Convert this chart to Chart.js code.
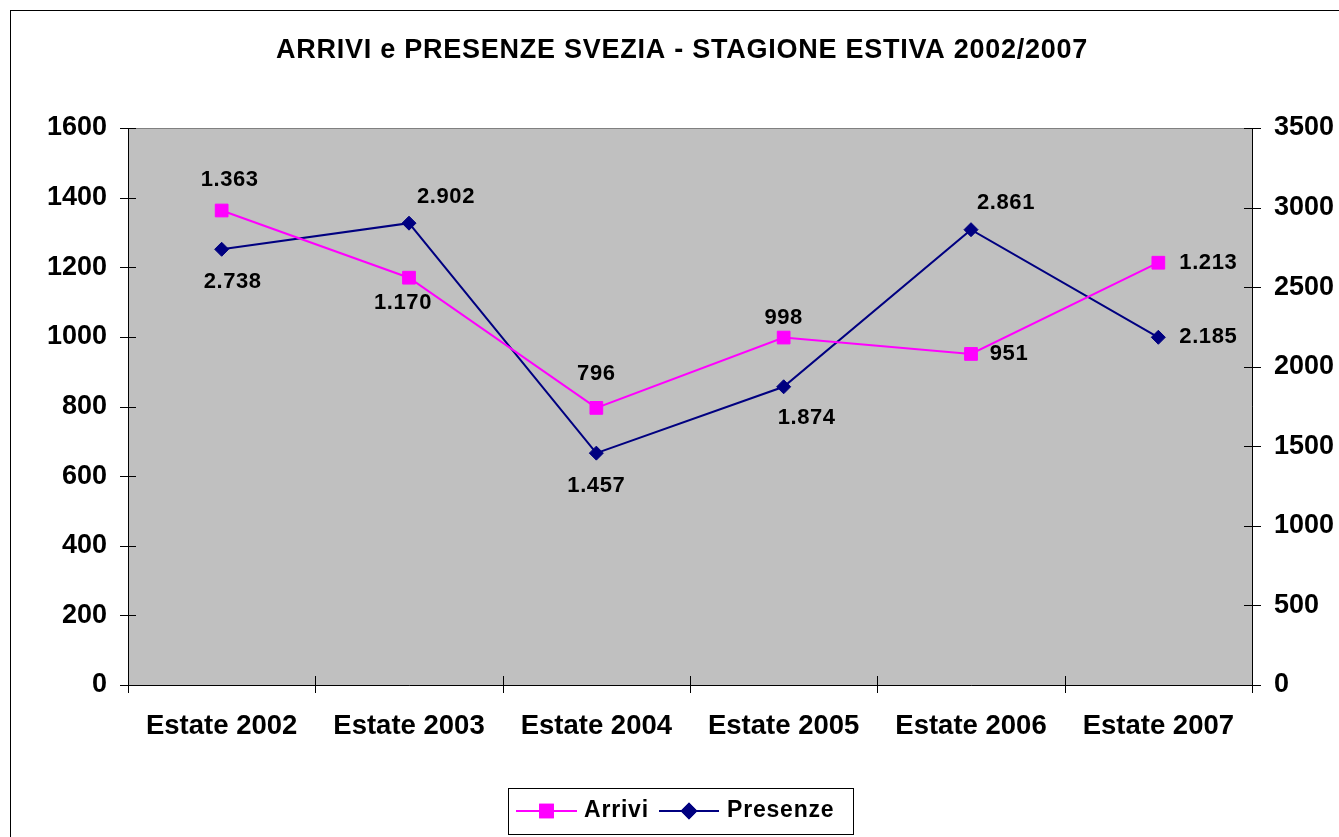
<!DOCTYPE html>
<html>
<head>
<meta charset="utf-8">
<script src="https://cdn.jsdelivr.net/npm/chart.js@4.4.0/dist/chart.umd.min.js"></script>
<style>
  html, body { margin: 0; background: #fff; }
  #wrap { width: 1339px; height: 837px; position: relative; }
</style>
</head>
<body>
<div id="wrap"><canvas id="chart"></canvas></div>
<script>
// ---- data ----
const categories = ['Estate 2002', 'Estate 2003', 'Estate 2004', 'Estate 2005', 'Estate 2006', 'Estate 2007'];
const arrivi = [1363, 1170, 796, 998, 951, 1213];
const presenze = [2738, 2902, 1457, 1874, 2861, 2185];
const leftTicks = [0, 200, 400, 600, 800, 1000, 1200, 1400, 1600];
const rightTicks = [0, 500, 1000, 1500, 2000, 2500, 3000, 3500];
const chartTitle = 'ARRIVI e PRESENZE SVEZIA - STAGIONE ESTIVA 2002/2007';

// label placement (offset from the point, px)
const arriviLabelPos = [[8, -31], [-6, 25], [0, -34], [0, -20], [38, 0], [50, 0]];
const presenzeLabelPos = [[11, 33], [37, -26], [0, 33], [23, 31], [35, -27], [50, 0]];

const FONT = '"Liberation Sans", Arial, sans-serif';

function fmt(v) {
    return v >= 1000 ? Math.floor(v / 1000) + '.' + String(v % 1000).padStart(3, '0') : String(v);
}

const framePlugin = {
    id: 'frame',
    beforeDatasetsDraw(chart) {
        const { ctx, chartArea: a } = chart;
        ctx.save();
        // outer chart border
        ctx.strokeStyle = '#000';
        ctx.lineWidth = 1;
        ctx.strokeRect(10.5, 10.5, 1400, 900);
        // plot area
        ctx.fillStyle = '#C0C0C0';
        ctx.fillRect(a.left, a.top, a.right - a.left, a.bottom - a.top);
        ctx.strokeStyle = '#808080';
        ctx.strokeRect(a.left + 0.5, a.top + 0.5, a.right - a.left, a.bottom - a.top);
        // axes
        ctx.strokeStyle = '#000';
        ctx.beginPath();
        ctx.moveTo(a.left + 0.5, a.top);
        ctx.lineTo(a.left + 0.5, a.bottom + 0.5);
        ctx.lineTo(a.right + 0.5, a.bottom + 0.5);
        ctx.lineTo(a.right + 0.5, a.top);
        const yl = chart.scales.y, yr = chart.scales.y1, x = chart.scales.x;
        yl.ticks.forEach(t => {
            const py = Math.round(yl.getPixelForValue(t.value)) + 0.5;
            ctx.moveTo(a.left - 8, py); ctx.lineTo(a.left + 8, py);
        });
        yr.ticks.forEach(t => {
            const py = Math.round(yr.getPixelForValue(t.value)) + 0.5;
            ctx.moveTo(a.right - 8, py); ctx.lineTo(a.right + 9, py);
        });
        for (let i = 0; i <= categories.length; i++) {
            const px = Math.round(i === 0 ? a.left : x.getPixelForValue(i - 0.5)) + 0.5;
            ctx.moveTo(px, a.bottom - 9); ctx.lineTo(px, a.bottom + 8);
        }
        ctx.stroke();
        ctx.restore();
    },
    afterDraw(chart) {
        const { ctx } = chart;
        ctx.save();
        ctx.fillStyle = '#000';
        ctx.textAlign = 'center';
        ctx.textBaseline = 'middle';
        // title
        ctx.font = 'bold 27px ' + FONT;
        ctx.letterSpacing = '0.75px';
        ctx.fillText(chartTitle, 682, 51);
        // data labels
        ctx.font = 'bold 22px ' + FONT;
        ctx.letterSpacing = '0.6px';
        const placements = [arriviLabelPos, presenzeLabelPos];
        chart.data.datasets.forEach((ds, di) => {
            chart.getDatasetMeta(di).data.forEach((pt, i) => {
                const [dx, dy] = placements[di][i];
                ctx.fillText(fmt(ds.data[i]), pt.x + dx, pt.y + dy);
            });
        });
        // legend
        ctx.strokeStyle = '#000';
        ctx.lineWidth = 1;
        ctx.strokeRect(508.5, 788.5, 345, 46);
        ctx.font = 'bold 23px ' + FONT;
        ctx.letterSpacing = '0.8px';
        ctx.textAlign = 'left';
        const items = [{ x0: 516, x1: 577, tx: 584 }, { x0: 659, x1: 719, tx: 727 }];
        const ly = 811;
        chart.data.datasets.forEach((ds, di) => {
            const it = items[di];
            ctx.strokeStyle = ds.borderColor;
            ctx.lineWidth = 2;
            ctx.beginPath();
            ctx.moveTo(it.x0, ly); ctx.lineTo(it.x1, ly);
            ctx.stroke();
            Chart.helpers.drawPoint(ctx, {
                pointStyle: ds.pointStyle, radius: ds.pointRadius, borderWidth: 1, rotation: 0
            }, (it.x0 + it.x1) / 2, ly);
            ctx.fillStyle = ds.pointBackgroundColor;
            ctx.strokeStyle = ds.pointBorderColor;
            ctx.fill(); ctx.stroke();
            ctx.fillStyle = '#000';
            ctx.fillText(ds.label, it.tx, ly);
        });
        ctx.restore();
    }
};

new Chart(document.getElementById('chart'), {
    type: 'line',
    data: {
        labels: categories,
        datasets: [
            {
                label: 'Arrivi',
                data: arrivi,
                yAxisID: 'y',
                borderColor: '#FF00FF',
                backgroundColor: '#FF00FF',
                borderWidth: 2,
                tension: 0,
                pointStyle: 'rect',
                pointRadius: 9,
                pointBackgroundColor: '#FF00FF',
                pointBorderColor: '#FF00FF',
                pointBorderWidth: 1,
            },
            {
                label: 'Presenze',
                data: presenze,
                yAxisID: 'y1',
                borderColor: '#000080',
                backgroundColor: '#000080',
                borderWidth: 2,
                tension: 0,
                pointStyle: 'rectRot',
                pointRadius: 7,
                pointBackgroundColor: '#000080',
                pointBorderColor: '#000080',
                pointBorderWidth: 1,
            },
        ],
    },
    options: {
        responsive: true,
        maintainAspectRatio: false,
        animation: false,
        layout: { padding: { top: 128 } },
        plugins: {
            legend: { display: false },
            title: { display: false },
            tooltip: { enabled: false },
        },
        scales: {
            x: {
                offset: true,
                grid: { display: false, drawTicks: false },
                border: { display: false },
                ticks: { color: '#000', padding: 25, maxRotation: 0, font: { family: FONT, size: 27.5, weight: 'bold' } },
                afterFit: s => { s.height = 152; },
            },
            y: {
                position: 'left',
                min: 0, max: 1600,
                afterBuildTicks: s => { s.ticks = leftTicks.map(v => ({ value: v })); },
                grid: { display: false, drawTicks: false },
                border: { display: false },
                ticks: { color: '#000', padding: 21, callback: v => String(v), font: { family: FONT, size: 27, weight: 'bold' } },
                afterFit: s => { s.width = 128; },
            },
            y1: {
                position: 'right',
                min: 0, max: 3500,
                afterBuildTicks: s => { s.ticks = rightTicks.map(v => ({ value: v })); },
                grid: { display: false, drawTicks: false },
                border: { display: false },
                ticks: { color: '#000', padding: 22, callback: v => String(v), font: { family: FONT, size: 27, weight: 'bold' } },
                afterFit: s => { s.width = 87; },
            },
        },
    },
    plugins: [framePlugin],
});
</script>
</body>
</html>
